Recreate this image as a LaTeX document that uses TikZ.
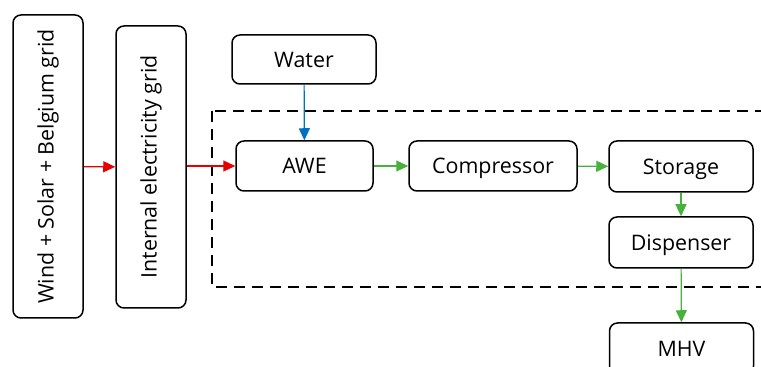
\documentclass[tikz,border=0pt]{standalone}
\usepackage{fontspec}
\setmainfont{Open Sans}
\usepackage{tikz}
\usetikzlibrary{arrows.meta}

\definecolor{elec}{RGB}{230,0,0}
\definecolor{wat}{RGB}{0,112,192}
\definecolor{hyd}{RGB}{70,178,60}

\begin{document}
\begin{tikzpicture}[x=0.5pt, y=-0.5pt,
  blk/.style={draw, rounded corners=4pt, line width=0.75pt, inner sep=0pt, font=\fontsize{10.7}{12}\selectfont},
  unit/.style={blk, minimum width=72pt, minimum height=25.5pt, text depth=0pt},
  flow/.style={-{Triangle[length=6pt,width=5.5pt]}, line width=0.6pt}]
  \clip (0,0) rectangle (761,367);
\node[blk, rotate=90, minimum width=151.5pt, minimum height=35pt] (W) at (48,166.5) {Wind + Solar + Belgium grid};
\node[blk, rotate=90, minimum width=141pt, minimum height=35pt] (G) at (151,167) {Internal electricity grid};
\node[unit, minimum height=24.5pt] (Wat) at (304,59.5) {Water};
\node[unit, minimum width=68.5pt, minimum height=25pt] (AWE) at (304.5,166) {AWE};
\node[unit, minimum width=84pt, minimum height=25pt] (C) at (493,166) {Compressor};
\node[unit] (S) at (681,166.5) {Storage};
\node[unit] (D) at (681,242.5) {Dispenser};
\node[unit] (M) at (681.5,348.5) {MHV};

% plant boundary
\draw[dash pattern=on 5.5pt off 3.5pt, line width=0.75pt] (212,111) rectangle (790,287);

\draw[flow, elec] (W) -- (G);
\draw[flow, elec] (G.south |- AWE.west) -- (AWE);
\draw[flow, wat] (Wat) -- (AWE);
\draw[flow, hyd] (AWE) -- (C);
\draw[flow, hyd] (C) -- (S);
\draw[flow, hyd] (S) -- (D);
\draw[flow, hyd] (D) -- (M);
\end{tikzpicture}
\end{document}
